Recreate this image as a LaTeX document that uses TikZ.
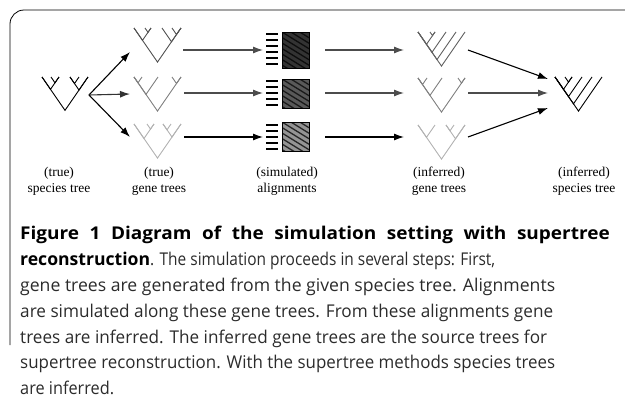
\documentclass[tikz,border=0pt]{standalone}
\usepackage{fontspec}
\usepackage{xfp}
\setmainfont{Liberation Serif}
\newfontfamily\capfont{Open Sans}
\usetikzlibrary{arrows.meta}
\definecolor{capgray}{HTML}{2b2b2b}
\newcommand\clade[2]{\draw[treeline] (#1,0) -- ({(#1+#2)/2},{(#2-#1)/2*1.45}) -- (#2,0);}
\newsavebox\fitbox
\newlength\fitlen
\newcommand\fitto[2]{\sbox\fitbox{#2}\setlength\fitlen{\wd\fitbox}\scalebox{\fpeval{#1/\fitlen}}[1]{\usebox\fitbox}}
\tikzset{
  treeline/.style={line width=0.9pt, line join=miter},
  flow/.style={line width=1.1pt, -{Latex[length=10pt,width=7pt]}},
  lab/.style={align=center, font=\fontsize{13.5}{16}\selectfont, inner sep=0pt},
  capline/.style={anchor=base west, inner sep=0pt, font=\capfont\fontsize{17.6}{20}\selectfont, text=capgray},
  bar/.style={line width=2pt},
}
\begin{document}
\begin{tikzpicture}[x=1pt,y=-1pt]
\useasboundingbox (0,0) rectangle (625,399);
% frame
\draw[line width=0.8pt, rounded corners=14pt] (10,345) -- (10,10) -- (625,10);

% trees
\begin{scope}[shift={(42,77)},black]
  \clade{0}{46}\clade{0}{17}\clade{9}{17}\clade{28}{46}\clade{28}{37}
\end{scope}
\begin{scope}[shift={(134,28)},color=black!68]
  \clade{0}{47}\clade{0}{17}\clade{11}{17}\clade{28}{47}\clade{38}{47}
\end{scope}
\begin{scope}[shift={(134,77)},color=black!50]
  \clade{0}{47}\clade{0}{24}\clade{0}{8}\clade{38}{47}
\end{scope}
\begin{scope}[shift={(134,124)},color=black!30]
  \clade{0}{47}\clade{0}{20}\clade{13}{20}\clade{29}{47}\clade{29}{37}
\end{scope}
\begin{scope}[shift={(418,32)},color=black!62]
  \clade{0}{47}\clade{0}{38}\clade{0}{28}\clade{0}{17}\clade{12}{17}
\end{scope}
\begin{scope}[shift={(418,78)},color=black!50]
  \clade{0}{47}\clade{0}{24}\clade{0}{9}\clade{40}{47}
\end{scope}
\begin{scope}[shift={(418,125)},color=black!30]
  \clade{0}{47}\clade{0}{17}\clade{28}{47}\clade{28}{36}
\end{scope}
\begin{scope}[shift={(555,77)},black]
  \clade{0}{47}\clade{0}{37}\clade{0}{27}\clade{0}{17}\clade{10}{17}
\end{scope}

% alignments
\foreach \y in {34,40,46,52,58,64} \draw[bar] (266,\y) -- (278,\y);
\foreach \y in {81,87,93,99,105} \draw[bar] (266,\y) -- (278,\y);
\foreach \y in {125,131,137,143,149} \draw[bar] (266,\y) -- (278,\y);
\newcommand\alignbox[4]{%
  \begin{scope}
    \clip (282,#1) rectangle (309,#2);
    \fill[#3] (282,#1) rectangle (309,#2);
    \foreach \k in {-8,...,8} \draw[#4,line width=1.3pt] (282,{#1+\k*5.5}) -- (309,{#1+\k*5.5+27*0.62});
  \end{scope}
  \draw[line width=0.8pt] (282,#1) rectangle (309,#2);}
\alignbox{32}{68}{black!80}{black!95}
\alignbox{79}{108}{black!65}{black!90}
\alignbox{122}{151}{black!42}{black!85}

% arrow end points
\coordinate (s0) at (89,95);
\coordinate (g1a) at (130,52);
\coordinate (g2a) at (130,94);
\coordinate (g3a) at (130,137);
\coordinate (g1b) at (183,50);
\coordinate (g2b) at (184,93);
\coordinate (g3b) at (184,137);
\coordinate (a1a) at (263,50);
\coordinate (a2a) at (263,93);
\coordinate (a3a) at (263,137);
\coordinate (a1b) at (325,50);
\coordinate (a2b) at (325,93);
\coordinate (a3b) at (325,137);
\coordinate (i1a) at (404,50);
\coordinate (i2a) at (404,93);
\coordinate (i3a) at (404,137);
\coordinate (i1b) at (468,50);
\coordinate (i2b) at (468,93);
\coordinate (i3b) at (468,137);
\coordinate (sp1) at (548,79);
\coordinate (sp2) at (548,93);
\coordinate (sp3) at (548,108);

\draw[flow] (s0) -- (g1a);
\draw[flow,black!80] (s0) -- (g2a);
\draw[flow] (s0) -- (g3a);
\draw[flow,black!70] (g1b) -- (a1a);
\draw[flow,black!70] (g2b) -- (a2a);
\draw[flow] (g3b) -- (a3a);
\draw[flow,black!70] (a1b) -- (i1a);
\draw[flow,black!70] (a2b) -- (i2a);
\draw[flow] (a3b) -- (i3a);
\draw[flow] (i1b) -- (sp1);
\draw[flow,black!70] (i2b) -- (sp2);
\draw[flow] (i3b) -- (sp3);

% labels
\node[lab] (l1) at (59,181) {(true)\\species tree};
\node[lab] (l2) at (159,181) {(true)\\gene trees};
\node[lab] (l3) at (287,181) {(simulated)\\alignments};
\node[lab] (l4) at (439,181) {(inferred)\\gene trees};
\node[lab] (l5) at (584,181) {(inferred)\\species tree};

% caption
\node[capline] (c1) at (20,239) {\scalebox{1.08}[1]{\makebox[546pt][s]{\color{black}\bfseries Figure 1 Diagram of the simulation setting with supertree}}};
\node[capline] (c2) at (20,265) {\textcolor{black}{\bfseries reconstruction}\fitto{345pt}{. The simulation proceeds in several steps: First,}};
\node[capline] (c3) at (20,291) {\fitto{535pt}{gene trees are generated from the given species tree. Alignments}};
\node[capline] (c4) at (20,317) {\fitto{533pt}{are simulated along these gene trees. From these alignments gene}};
\node[capline] (c5) at (20,343) {\fitto{527pt}{trees are inferred. The inferred gene trees are the source trees for}};
\node[capline] (c6) at (20,368) {\fitto{535pt}{supertree reconstruction. With the supertree methods species trees}};
\node[capline] (c7) at (20,394) {\fitto{94pt}{are inferred.}};
\end{tikzpicture}
\end{document}
